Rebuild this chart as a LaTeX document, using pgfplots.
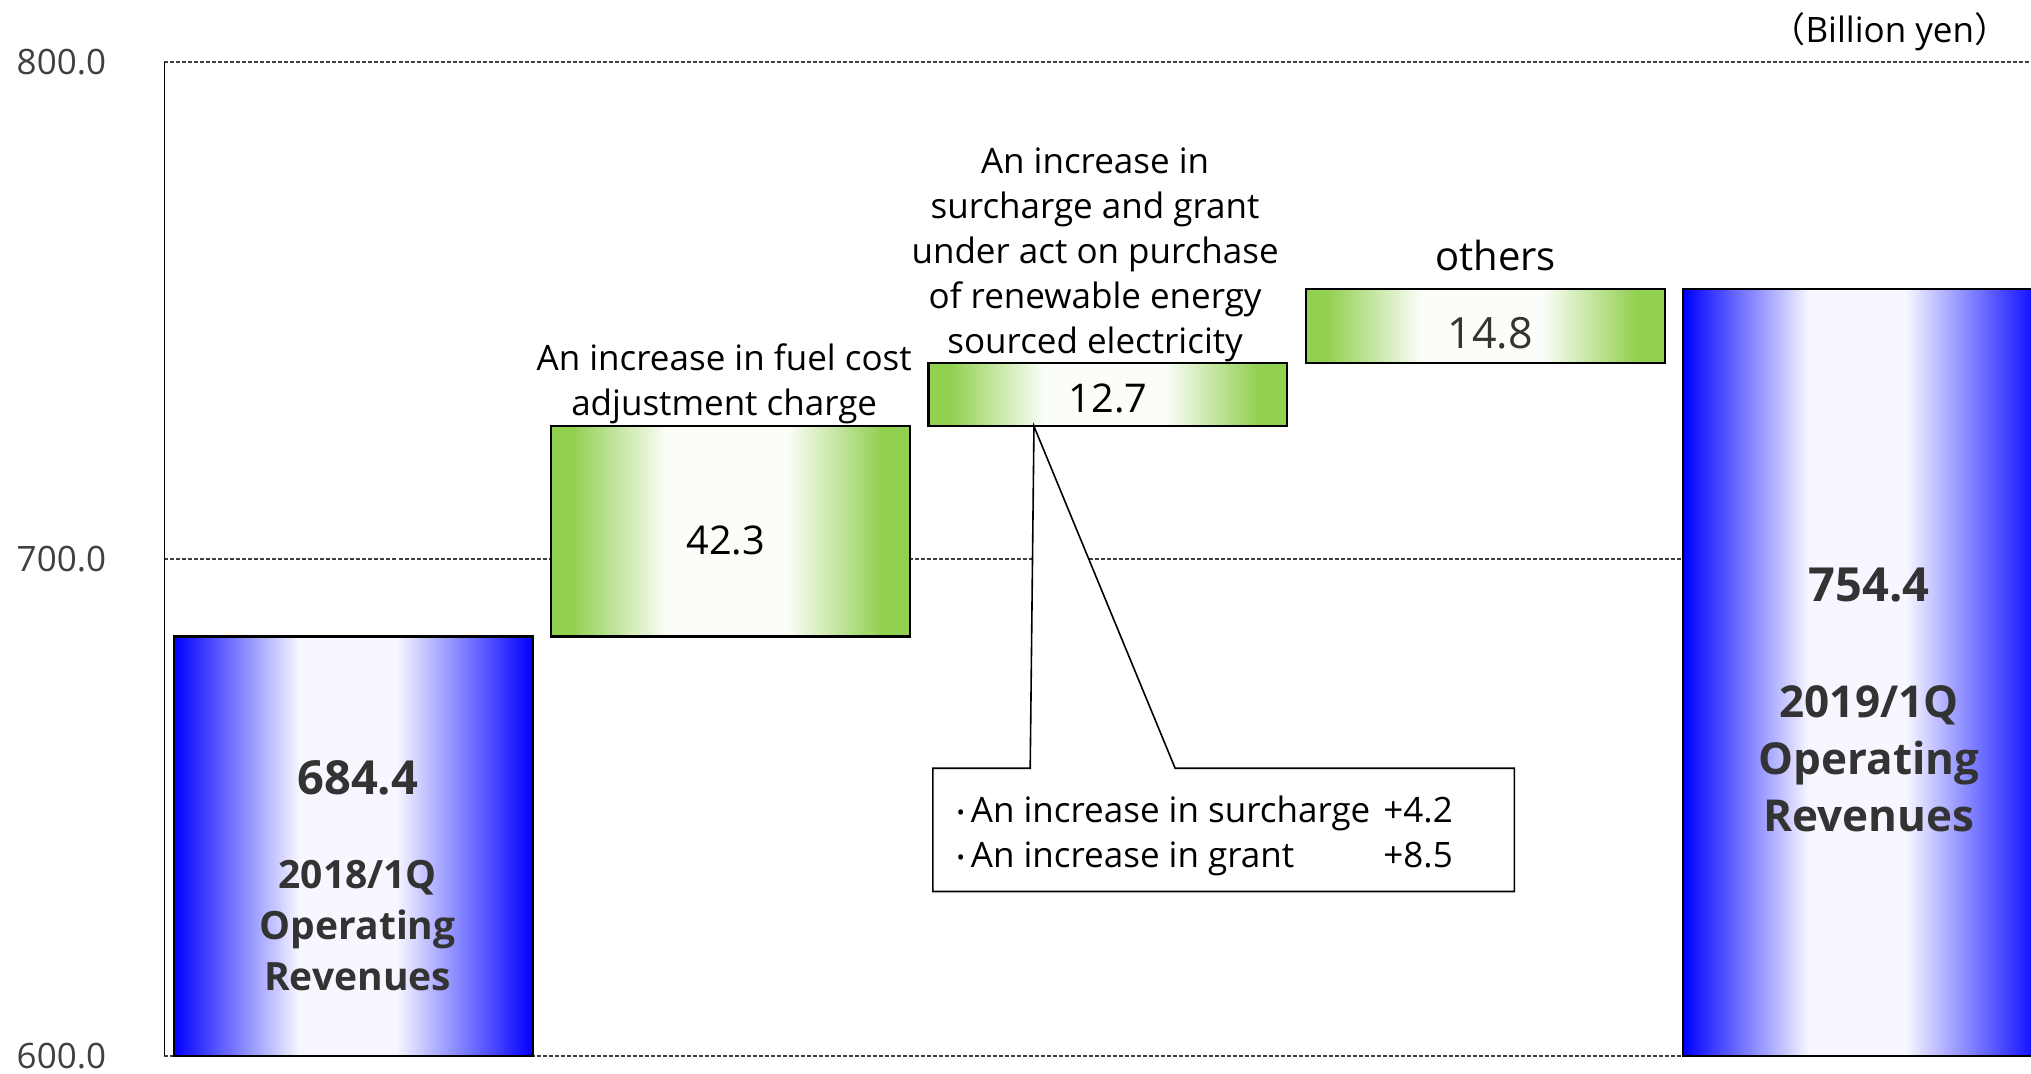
\documentclass[border=0pt]{standalone}
\usepackage{pgfplots}
\pgfplotsset{compat=1.18}
\usepackage{fontspec}
\setmainfont{Open Sans}
\newfontfamily\cjk{Noto Sans CJK JP}
\definecolor{barG}{RGB}{146,208,80}
\definecolor{barB}{RGB}{0,0,255}
\definecolor{txtG}{RGB}{51,51,51}
\pgfdeclarehorizontalshading{bluebar}{100bp}{color(0bp)=(barB); color(25bp)=(barB); color(42.5bp)=(barB!3); color(56bp)=(barB!3); color(75bp)=(barB); color(100bp)=(barB)}
\pgfdeclarehorizontalshading{greenbar}{100bp}{color(0bp)=(barG); color(25bp)=(barG); color(28bp)=(barG); color(41bp)=(barG!4); color(58bp)=(barG!4); color(71bp)=(barG); color(75bp)=(barG); color(100bp)=(barG)}
\newcommand{\blt}{\raisebox{1pt}{\fontsize{11}{11}\selectfont •}\hspace{3pt}}
\begin{document}
\begin{tikzpicture}[
  lbl/.style={font=\fontsize{17.5}{22.5}\selectfont, align=center, inner sep=0pt},
  num/.style={font=\fontsize{19.8}{23}\selectfont, inner sep=0pt},
  bnum/.style={font=\bfseries\fontsize{23.5}{28}\selectfont, text=txtG, inner sep=0pt},
  blbl/.style={font=\bfseries\fontsize{19.5}{25.5}\selectfont, text=txtG, align=center, inner sep=0pt},
  blblb/.style={font=\bfseries\fontsize{22}{28.5}\selectfont, text=txtG, align=center, inner sep=0pt},
  bar/.style={draw=black, line width=1.1pt, shade},
]
\begin{axis}[
  scale only axis, width=933.25pt, height=497pt,
  at={(0pt,0pt)}, anchor=south west,
  xmin=-0.5, xmax=4.446, ymin=600, ymax=800,
  axis x line=none, axis y line*=left,
  y axis line style={-, line width=0.85pt, black},
  ytick={600,700,800}, yticklabels={600.0,700.0,800.0},
  xtick=\empty,
  major tick length=0pt,
  ymajorgrids, grid style={dash pattern=on 2pt off 1pt, line width=0.7pt, black!75},
  yticklabel style={anchor=east, inner sep=0pt, xshift=-29pt, font=\fontsize{17.5}{21}\selectfont, text=black!75},
  clip=true,
]
% 2018/1Q operating revenues: 600 -> 684.4
\addplot[bar, shading=bluebar] coordinates {(-0.4755,600) (0.4755,600) (0.4755,684.4) (-0.4755,684.4)} -- cycle;
% fuel cost adjustment: +42.3 (684.4 -> 726.7)
\addplot[bar, shading=greenbar] coordinates {(0.5245,684.4) (1.4755,684.4) (1.4755,726.7) (0.5245,726.7)} -- cycle;
% surcharge and grant: +12.7 (726.7 -> 739.4)
\addplot[bar, shading=greenbar] coordinates {(1.5245,726.7) (2.4755,726.7) (2.4755,739.4) (1.5245,739.4)} -- cycle;
% others: +14.8 (739.4 -> 754.4)
\addplot[bar, shading=greenbar] coordinates {(2.5245,739.4) (3.4755,739.4) (3.4755,754.4) (2.5245,754.4)} -- cycle;
% 2019/1Q operating revenues: 600 -> 754.4
\addplot[bar, shading=bluebar] coordinates {(3.5245,600) (4.4755,600) (4.4755,754.4) (3.5245,754.4)} -- cycle;

\node[lbl] at (axis cs:0.983,735.3) {An increase in fuel cost\\adjustment charge};
\node[lbl] at (axis cs:1.966,761.2) {An increase in\\surcharge and grant\\under act on purchase\\of renewable energy\\sourced electricity};
\node[lbl, font=\fontsize{20}{24}\selectfont] at (axis cs:3.027,761.1) {others};
\node[num] at (axis cs:0.987,703.8) {42.3};
\node[num] at (axis cs:2.0,732.4) {12.7};
\node[num, text=black!80, font=\fontsize{21.5}{25}\selectfont] at (axis cs:3.013,745.4) {14.8};
\node[bnum] at (axis cs:0.012,655.9) {684.4};
\node[blbl] at (axis cs:0.012,626.3) {2018/1Q\\Operating\\Revenues};
\node[bnum] at (axis cs:4.017,694.7) {754.4};
\node[blblb] at (axis cs:4.017,659.9) {2019/1Q\\Operating\\Revenues};

\draw[black, line width=0.8pt, fill=white] (axis cs:1.536,657.9) -- (axis cs:1.794,657.9) -- (axis cs:1.804,726.7) -- (axis cs:2.178,657.9) -- (axis cs:3.077,657.9) -- (axis cs:3.077,633.1) -- (axis cs:1.536,633.1) -- cycle;
\node[lbl, anchor=base west] at (axis cs:1.598,647.0) {\blt An increase in surcharge};
\node[lbl, anchor=base west] at (axis cs:2.729,647.0) {+4.2};
\node[lbl, anchor=base west] at (axis cs:1.598,637.9) {\blt An increase in grant};
\node[lbl, anchor=base west] at (axis cs:2.729,637.9) {+8.5};
\end{axis}
\node[anchor=east, inner sep=0pt, font=\fontsize{17.5}{21}\selectfont] at (922.5pt,512pt) {{\cjk （}Billion yen{\cjk ）}};
\pgfresetboundingbox
\useasboundingbox (-82.25pt,-8.5pt) rectangle (933.25pt,528pt);
\end{tikzpicture}
\end{document}
